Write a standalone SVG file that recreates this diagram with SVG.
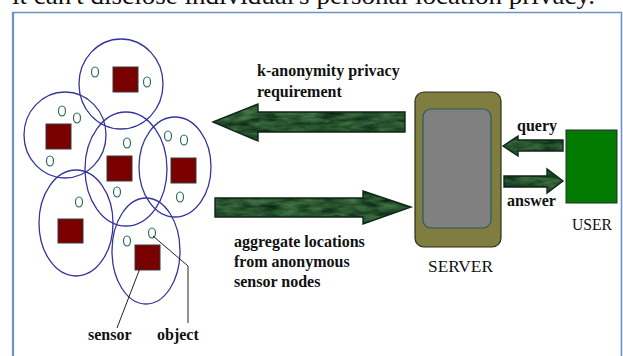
<svg xmlns="http://www.w3.org/2000/svg" width="623" height="356" viewBox="0 0 623 356">
<style>
.cell{fill:none;stroke:#35359c;stroke-width:1.3}
.sensor{fill:#7a0000;stroke:#3a3a3a;stroke-width:1}
.obj{fill:none;stroke:#2f6a62;stroke-width:1.2}
.lbl{font-family:"Liberation Serif","Times New Roman",serif;font-weight:bold;font-size:16px;fill:#111}
.cap{font-family:"Liberation Serif","Times New Roman",serif;font-size:17px;fill:#111}
.ar{filter:url(#marble)}
.aro{fill:none;stroke:#0e2616;stroke-width:1.4;stroke-linejoin:miter}
.ptr{fill:none;stroke:#222;stroke-width:1}
</style>
<defs>
<filter id="marble" x="0" y="0" width="100%" height="100%" color-interpolation-filters="sRGB">
<feTurbulence type="fractalNoise" baseFrequency="0.05 0.18" numOctaves="3" seed="7" result="n"/>
<feColorMatrix in="n" type="matrix" values="0.35 0 0 0 -0.02  0.5 0 0 0 0.07  0.3 0 0 0 0.03  0 0 0 0 1" result="c"/>
<feComposite in="c" in2="SourceGraphic" operator="in"/>
</filter>
</defs>
<rect width="623" height="356" fill="#ffffff"/>
<text x="12" y="4" font-family="Liberation Serif,'Times New Roman',serif" font-size="26" fill="#111" textLength="583" lengthAdjust="spacingAndGlyphs">it can't disclose individual's personal location privacy.</text>
<path d="M13,360 L13,12.5 L621.5,12.5 L621.5,360" fill="none" stroke="#6d91c9" stroke-width="1.6"/>
<line x1="13" y1="12" x2="13" y2="360" stroke="#6d91c9" stroke-width="2.2"/>

<g id="sensor-field">
<ellipse class="cell" cx="121" cy="84" rx="42" ry="45"/>
<ellipse class="cell" cx="65" cy="135" rx="41" ry="43"/>
<ellipse class="cell" cx="126" cy="169" rx="41" ry="57"/>
<ellipse class="cell" cx="175" cy="167" rx="36" ry="50"/>
<ellipse class="cell" cx="76" cy="223" rx="37" ry="53"/>
<ellipse class="cell" cx="146" cy="251" rx="34" ry="53"/>
<rect class="sensor" x="113" y="67" width="25" height="25"/>
<rect class="sensor" x="46" y="124" width="25" height="25"/>
<rect class="sensor" x="107" y="156" width="25" height="25"/>
<rect class="sensor" x="171" y="158" width="25" height="25"/>
<rect class="sensor" x="58" y="219" width="25" height="24"/>
<rect class="sensor" x="135" y="245" width="25" height="25"/>
<ellipse class="obj" cx="95" cy="72" rx="3.5" ry="5"/>
<ellipse class="obj" cx="147" cy="82" rx="3.5" ry="5"/>
<ellipse class="obj" cx="62" cy="111" rx="3.5" ry="5"/>
<ellipse class="obj" cx="77" cy="118" rx="3.5" ry="5"/>
<ellipse class="obj" cx="50" cy="161" rx="3.5" ry="5"/>
<ellipse class="obj" cx="127" cy="143" rx="3.5" ry="5"/>
<ellipse class="obj" cx="168" cy="136" rx="3.5" ry="5"/>
<ellipse class="obj" cx="184" cy="140" rx="3.5" ry="5"/>
<ellipse class="obj" cx="117" cy="192" rx="3.5" ry="5"/>
<ellipse class="obj" cx="79" cy="202" rx="3.5" ry="5"/>
<ellipse class="obj" cx="180" cy="197" rx="3.5" ry="5"/>
<ellipse class="obj" cx="127" cy="241" rx="3.5" ry="5"/>
<ellipse class="obj" cx="152" cy="233" rx="3.5" ry="5"/>
<polyline class="ptr" points="142,263 117,328"/>
<polyline class="ptr" points="153,236 188,266 188,323"/>
<text class="lbl" x="88" y="340">sensor</text>
<text class="lbl" x="157" y="340">object</text>
</g>

<g id="server">
<rect x="415" y="92" width="86" height="155" rx="9" fill="#7f7d40" stroke="#2b2b1a" stroke-width="1.2"/>
<rect x="423" y="109" width="68" height="119" rx="8" fill="#808080" stroke="#2d5a5a" stroke-width="1.2"/>
<text class="cap" x="428" y="272" textLength="65" lengthAdjust="spacingAndGlyphs">SERVER</text>
</g>

<g id="user">
<rect x="566" y="130" width="51" height="73" fill="#007a00" stroke="#2a2a2a" stroke-width="1"/>
<text class="cap" x="572" y="230" font-size="16" textLength="40" lengthAdjust="spacingAndGlyphs">USER</text>
</g>

<g id="connectors">
<polygon class="ar" points="213,122 258,104 258,112 405,112 405,132 258,132 258,141"/>
<polygon class="aro" points="213,122 258,104 258,112 405,112 405,132 258,132 258,141"/>
<polygon class="ar" points="215,198 363,198 363,191 411,207 363,224 363,217 215,217"/>
<polygon class="aro" points="215,198 363,198 363,191 411,207 363,224 363,217 215,217"/>
<polygon class="ar" points="503,146 518,136 518,140 563,140 563,151 518,151 518,156"/>
<polygon class="aro" points="503,146 518,136 518,140 563,140 563,151 518,151 518,156"/>
<polygon class="ar" points="504,176 547,176 547,169 563,181 547,193 547,187 504,187"/>
<polygon class="aro" points="504,176 547,176 547,169 563,181 547,193 547,187 504,187"/>
<text class="lbl" x="257" y="76">k-anonymity privacy</text>
<text class="lbl" x="257" y="97">requirement</text>
<text class="lbl" x="234" y="247">aggregate locations</text>
<text class="lbl" x="234" y="267">from anonymous</text>
<text class="lbl" x="234" y="287">sensor nodes</text>
<text class="lbl" x="517" y="131">query</text>
<text class="lbl" x="507" y="206">answer</text>
</g>
</svg>
